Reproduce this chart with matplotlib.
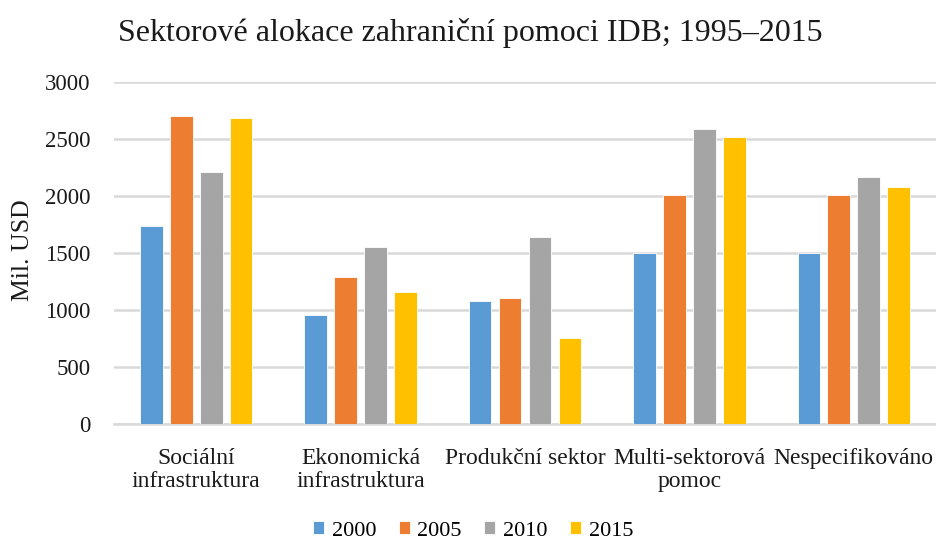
import matplotlib
matplotlib.use("Agg")
import matplotlib.pyplot as plt
import numpy as np

categories = ["Sociální\ninfrastruktura", "Ekonomická\ninfrastruktura", "Produkční sektor",
              "Multi-sektorová\npomoc", "Nespecifikováno"]
years = ["2000", "2005", "2010", "2015"]
v2000 = [1740, 960, 1080, 1500, 1500]
v2005 = [2700, 1290, 1110, 2010, 2010]
v2010 = [2210, 1550, 1640, 2590, 2165]
v2015 = [2680, 1160, 760, 2515, 2075]
series = [v2000, v2005, v2010, v2015]
colors = ["#5B9BD5", "#ED7D31", "#A5A5A5", "#FFC000"]
yticks = [0, 500, 1000, 1500, 2000, 2500, 3000]

plt.rcParams['font.family'] = ['Liberation Serif', 'DejaVu Serif']

fig = plt.figure(figsize=(9.36, 5.4), dpi=100)
ax = fig.add_axes([114/936, 1-424.3/540, 1-114/936, (424.3-81.7)/540])

x = np.arange(len(categories))
step = 0.182
width = 0.138
for i, (vals, c, yr) in enumerate(zip(series, colors, years)):
    ax.bar(x + (i-1.5)*step, vals, width=width, color=c, label=yr,
           edgecolor="white", linewidth=0.6, zorder=3)

ax.set_xlim(-0.5, len(categories)-0.5)
ax.set_ylim(0, 3000)
ax.set_yticks(yticks)
ax.set_yticklabels([str(t) for t in yticks], fontsize=16.5)
ax.set_xticks(x)
ax.set_xticklabels(categories, fontsize=17, linespacing=1.15)
ax.tick_params(axis='both', length=0, colors='#1a1a1a')
ax.tick_params(axis='y', pad=17)
ax.tick_params(axis='x', pad=17)
ax.grid(axis='y', color='#D9D9D9', linewidth=1.8, zorder=0)
for s in ['top', 'right', 'left']:
    ax.spines[s].set_visible(False)
ax.spines['bottom'].set_color('#D9D9D9')
ax.spines['bottom'].set_linewidth(1.8)

fig.text(470/936, 1-33/540, "Sektorové alokace zahraniční pomoci IDB; 1995–2015",
         ha='center', va='center', fontsize=23, color='#1a1a1a')
fig.text(23/936, 1-250/540, "Mil. USD", rotation=90, ha='center', va='center', fontsize=18.5,
         color='#1a1a1a')

fig.legend(loc='center', bbox_to_anchor=(473/936, 1-531/540), ncol=4, frameon=False,
           fontsize=16, handlelength=0.5, handleheight=0.5, handletextpad=0.35,
           columnspacing=1.0, borderpad=0)

fig.savefig("out.png", dpi=100)
